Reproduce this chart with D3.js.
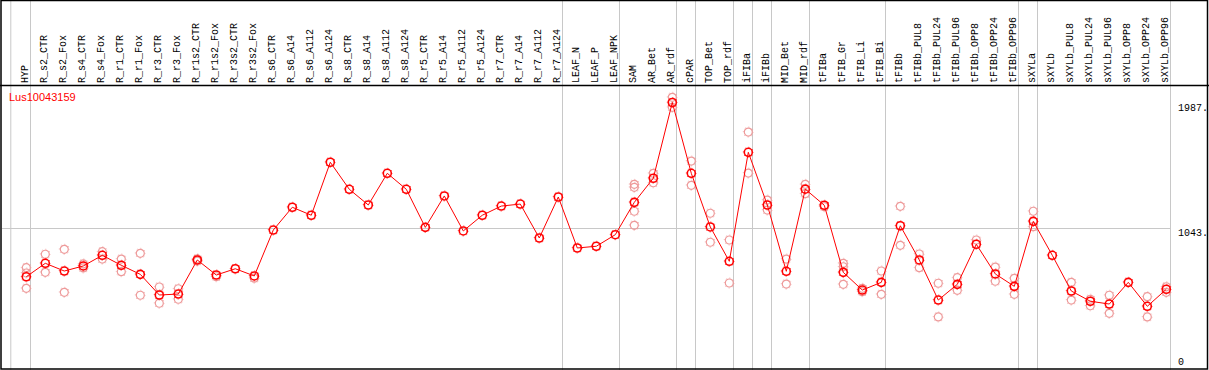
<!DOCTYPE html>
<html>
<head>
<meta charset="utf-8">
<script src="https://cdn.jsdelivr.net/npm/d3@7/dist/d3.min.js"></script>
<style>
  html, body { margin: 0; padding: 0; background: #fff; }
  svg { display: block; }
</style>
</head>
<body>
<div id="chart"></div>
<script>
// Expression profile of one gene across sample types: mean line + replicates.
const W = 1209;
const H = 370;

const GENE = 'Lus10043159';

const categories = [
  'HYP', 'R_s2_CTR', 'R_s2_Fox', 'R_s4_CTR', 'R_s4_Fox', 'R_r1_CTR', 'R_r1_Fox',
  'R_r3_CTR', 'R_r3_Fox', 'R_r1s2_CTR', 'R_r1s2_Fox', 'R_r3s2_CTR', 'R_r3s2_Fox',
  'R_s6_CTR', 'R_s6_A14', 'R_s6_A112', 'R_s6_A124', 'R_s8_CTR', 'R_s8_A14',
  'R_s8_A112', 'R_s8_A124', 'R_r5_CTR', 'R_r5_A14', 'R_r5_A112', 'R_r5_A124',
  'R_r7_CTR', 'R_r7_A14', 'R_r7_A112', 'R_r7_A124', 'LEAF_N', 'LEAF_P', 'LEAF_NPK',
  'SAM', 'AR_Bet', 'AR_rdf', 'cPAR', 'TOP_Bet', 'TOP_rdf', 'iFIBa', 'iFIBb',
  'MID_Bet', 'MID_rdf', 'tFIBa', 'tFIB_Gr', 'tFIB_Li', 'tFIB_Bi', 'tFIBb',
  'tFIBb_PUL8', 'tFIBb_PUL24', 'tFIBb_PUL96', 'tFIBb_OPP8', 'tFIBb_OPP24', 'tFIBb_OPP96',
  'sXYLa', 'sXYLb', 'sXYLb_PUL8', 'sXYLb_PUL24', 'sXYLb_PUL96', 'sXYLb_OPP8',
  'sXYLb_OPP24', 'sXYLb_OPP96'
];

// last sample of each group -> a vertical separator is drawn after it
const groupEnds = [
  'HYP', 'R_r7_A124', 'LEAF_NPK', 'AR_rdf', 'cPAR', 'TOP_rdf', 'iFIBa', 'iFIBb',
  'MID_rdf', 'tFIB_Bi', 'tFIBb_OPP96', 'sXYLa', 'sXYLb_OPP96'
];

const means = [
  678, 779, 721, 759, 839, 764, 696, 541, 548, 804, 691, 738, 684,
  1029, 1200, 1140, 1538, 1335, 1217, 1455, 1335, 1049, 1285, 1022, 1140,
  1209, 1224, 969, 1277, 894, 907, 994,
  1237, 1418, 1987, 1455, 1052, 794, 1613, 1217, 719, 1336,
  1215, 711, 578, 636, 1061, 804, 503, 621, 922, 699, 606,
  1094, 839, 571, 494, 473, 636, 456, 584
];

const replicates = [
  [746, 706, 591], [847, 711], [884, 561], [774, 744], [866, 811], [811, 716],
  [854, 539], [601, 479], [588, 509], [812, 796], [678], [], [667],
  [], [], [], [], [], [], [], [], [], [], [], [],
  [], [], [], [], [], [], [],
  [1372, 1350, 1170, 1064], [1455, 1384], [2026, 1951], [1547, 1365],
  [1155, 937], [954, 631], [1765, 1457], [1254, 1179], [811, 623], [1372, 1302],
  [1204], [779, 753, 621], [591, 566], [721, 546], [1207, 914], [849, 746],
  [629, 376], [671, 576], [954], [751, 644], [666, 546],
  [1170, 1054], [], [636, 503], [509, 460], [539, 403], [], [528, 376], [603, 561]
];

const yTicks = [0, 1043, 1987];

const HEADER_H = 85;
const MONO = '"Liberation Mono", "DejaVu Sans Mono", monospace';

const svg = d3.select('#chart').append('svg')
  .attr('width', W).attr('height', H);

const x = d3.scalePoint().domain(categories).range([26.3, 1166.3]);
const y = d3.scaleLinear().domain([0, 1987]).range([367, 102.5]);

// grid
const grid = svg.append('g').attr('stroke', '#c8c8c8').attr('stroke-width', 1);
grid.append('line')
  .attr('x1', x(categories[0]) - 15.5).attr('x2', x(categories[0]) - 15.5)
  .attr('y1', 0).attr('y2', H);
grid.selectAll('line.sep')
  .data(groupEnds)
  .join('line')
  .attr('class', 'sep')
  .attr('x1', d => Math.round(x(d) + 4) + 0.5).attr('x2', d => Math.round(x(d) + 4) + 0.5)
  .attr('y1', 0).attr('y2', H);
grid.append('line')
  .attr('x1', 2).attr('x2', Math.round(x(categories[categories.length - 1]) + 4) + 0.5)
  .attr('y1', Math.round(y(1043)) + 0.5).attr('y2', Math.round(y(1043)) + 0.5);

// frame
const frame = svg.append('g').attr('stroke', '#000').attr('stroke-width', 1.5).attr('fill', 'none');
frame.append('rect').attr('x', 1).attr('y', 0.5).attr('width', W - 2.5).attr('height', H - 1.5);
frame.append('line').attr('x1', 0).attr('x2', W).attr('y1', HEADER_H + 0.5).attr('y2', HEADER_H + 0.5);

// rotated sample labels
svg.append('g')
  .selectAll('text')
  .data(categories)
  .join('text')
  .attr('transform', d => `translate(${Math.round(x(d)) - 1},83) rotate(-90)`)
  .attr('dominant-baseline', 'central')
  .attr('font-family', MONO)
  .attr('font-size', 10)
  .attr('fill', '#000')
  .text(d => d);

// y axis labels on the right
const yAxis = d3.axisRight(y)
  .tickValues(yTicks)
  .tickSize(0)
  .tickPadding(0)
  .tickFormat(d => d === 0 ? '0' : d + '.');
const ax = svg.append('g').attr('transform', 'translate(1178,0)').call(yAxis);
ax.select('.domain').remove();
ax.selectAll('text')
  .attr('font-family', MONO)
  .attr('font-size', 10)
  .attr('fill', '#000')
  .attr('x', 0)
  .attr('dy', d => d === 0 ? '-0.3em' : '0.75em');

// gene name
svg.append('text')
  .attr('x', 9).attr('y', 101)
  .attr('font-family', '"Liberation Sans", Arial, sans-serif')
  .attr('font-size', 11)
  .attr('fill', '#ff0000')
  .text(GENE);

function marker(sel, color, w) {
  sel.append('circle').attr('r', 4).attr('fill', 'none')
    .attr('stroke', color).attr('stroke-width', w);
  sel.append('circle').attr('r', 5).attr('fill', 'none')
    .attr('stroke', color).attr('stroke-width', 1)
    .attr('stroke-dasharray', '0.8 3.127')
    .attr('stroke-dashoffset', 0.4);
}

// replicates
const repData = [];
replicates.forEach((vals, i) => vals.forEach(v => repData.push({ c: categories[i], v })));
svg.append('g')
  .selectAll('g')
  .data(repData)
  .join('g')
  .attr('transform', d => `translate(${x(d.c)},${y(d.v)})`)
  .call(g => marker(g, '#ee9a9a', 1.2));

// mean line
const line = d3.line().x((d, i) => x(categories[i])).y(d => y(d));
svg.append('path')
  .datum(means)
  .attr('fill', 'none')
  .attr('stroke', '#ff0000')
  .attr('stroke-width', 1)
  .attr('d', line);

// mean markers
svg.append('g')
  .selectAll('g')
  .data(means)
  .join('g')
  .attr('transform', (d, i) => `translate(${x(categories[i])},${y(d)})`)
  .call(g => marker(g, '#ff0000', 1.6));
</script>
</body>
</html>
